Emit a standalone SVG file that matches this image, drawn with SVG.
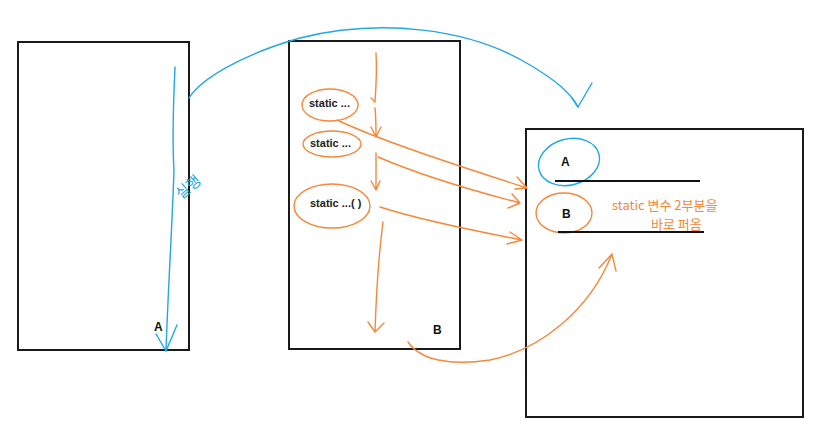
<svg xmlns="http://www.w3.org/2000/svg" width="813" height="430" viewBox="0 0 813 430">
<style>
.box{fill:#fff;stroke:#1a1a1a;stroke-width:2}
.lbl{font-family:"Liberation Sans",Arial,sans-serif;font-weight:bold;font-size:12px;fill:#111}
.st{font-family:"Liberation Sans",Arial,sans-serif;font-weight:bold;font-size:11px;fill:#222}
.or{fill:none;stroke:#f5883a;stroke-width:1.4;stroke-linecap:round;stroke-linejoin:round}
.bl{fill:none;stroke:#22a6e6;stroke-width:1.4;stroke-linecap:round;stroke-linejoin:round}
.hw{font-family:"Noto Sans CJK KR","Noto Sans",sans-serif;font-size:13px;fill:#f5883a}
.hwb{font-family:"Noto Sans CJK KR","Noto Sans",sans-serif;font-size:15px;fill:#22a6e6}
</style>
<rect width="813" height="430" fill="#fff"/>
<g id="node-left">
<rect class="box" x="18" y="42" width="171" height="308"/>
<text class="lbl" x="154" y="331">A</text>
</g>
<g id="node-middle">
<rect class="box" x="289" y="41" width="171" height="308"/>
<ellipse class="or" cx="330" cy="105" rx="28" ry="16"/>
<text class="st" x="309" y="107">static ...</text>
<ellipse class="or" cx="332" cy="144" rx="29" ry="13"/>
<text class="st" x="310" y="147">static ...</text>
<ellipse class="or" cx="332" cy="206" rx="38" ry="22"/>
<text class="st" x="310" y="207">static ...( )</text>
<text class="lbl" x="433" y="334">B</text>
</g>
<g id="node-right">
<rect class="box" x="526" y="129" width="277" height="288"/>
<ellipse class="bl" cx="569" cy="162" rx="31" ry="23" transform="rotate(-15 569 162)"/>
<text class="lbl" x="561" y="166">A</text>
<line x1="555" y1="181" x2="700" y2="181" stroke="#111" stroke-width="1.8"/>
<ellipse class="or" cx="564" cy="213" rx="28" ry="20"/>
<text class="lbl" x="562" y="218">B</text>
<line x1="558" y1="232" x2="704" y2="232" stroke="#111" stroke-width="1.8"/>
<text class="hw" x="612" y="210">static 변수 2부분을</text>
<text class="hw" x="651" y="229">바로 퍼옴</text>
</g>
<g id="connectors">
<path class="bl" d="M175,67 C173,110 172,140 174,170 C172,230 168,290 166,351"/>
<path class="bl" d="M156,334 L166,351 L177,325"/>
<text class="hwb" transform="translate(181,200) rotate(-40)">실행</text>
<path class="bl" d="M189,98 C200,80 240,55 300,38 C380,18 470,28 530,65 C555,80 570,92 578,107"/>
<path class="bl" d="M572,98 L578,107 L592,83"/>
<path class="or" d="M376,53 C377,70 376,88 375,102 L371,98"/>
<path class="or" d="M375,108 C376,118 376,128 376,137 M371,127 L376,137 L381,127"/>
<path class="or" d="M376,153 C376,165 376,178 376,190 M371,181 L376,190 L380,181"/>
<path class="or" d="M383,222 C378,260 376,300 375,332 M368,322 L375,332 L384,323"/>
<path class="or" d="M337,120 C380,140 440,160 527,188 M517,177 L527,188 L515,189"/>
<path class="or" d="M378,157 C420,175 470,190 520,203 M512,194 L520,203 L508,208"/>
<path class="or" d="M380,207 C420,220 470,230 522,240 M510,232 L522,240 L507,244"/>
<path class="or" d="M408,342 C420,360 450,366 490,360 C540,350 590,310 612,254 M599,268 L612,254 L616,271"/>
</g>
</svg>
